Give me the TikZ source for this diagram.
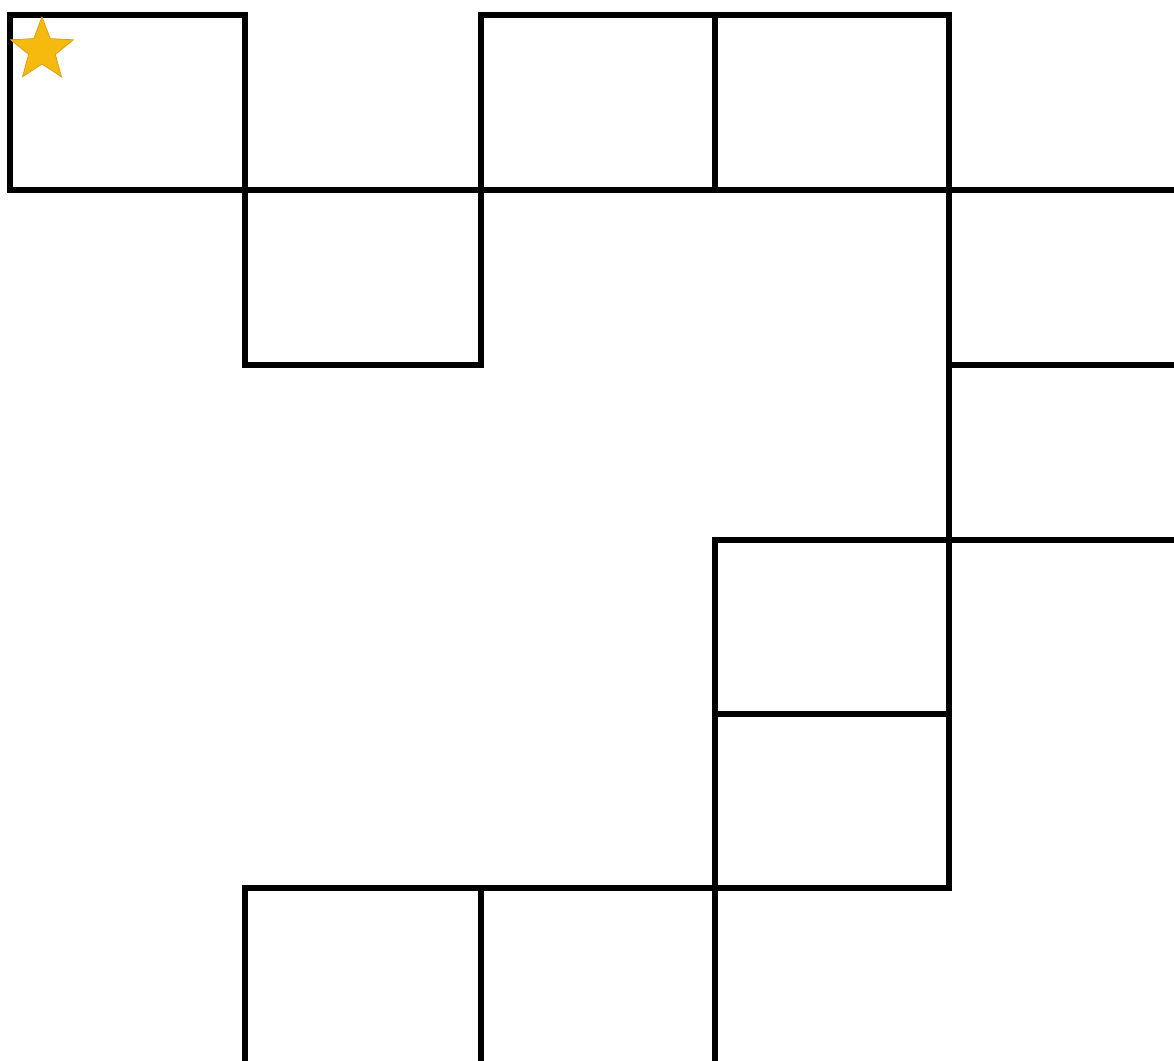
\documentclass[tikz,border=0pt]{standalone}
\usetikzlibrary{shapes.geometric}
\definecolor{stargold}{HTML}{F6BA0E}
\definecolor{staredge}{HTML}{D9A21A}
\begin{document}
\begin{tikzpicture}[x=0.5pt,y=-0.5pt,
  wall/.style={draw=black,line width=2.7pt,line cap=rect,line join=miter},
  starmark/.style={star,star points=5,star point ratio=2.35,minimum size=33pt,inner sep=0pt,fill=stargold,draw=staredge,line width=0.4pt}]
\useasboundingbox (0,0) rectangle (1174,1061);
\clip (0,0) rectangle (1174,1061);
% top row
\draw[wall] (10,15) rectangle (245,190);
\draw[wall] (481,15) rectangle (949,190);
\draw[wall] (715,15) -- (715,190);
\draw[wall] (10,190) -- (1180,190);
% row 1, column 1
\draw[wall] (245,190) rectangle (481,365);
% right column
\draw[wall] (949,190) -- (949,888);
\draw[wall] (949,365) -- (1180,365);
\draw[wall] (949,540) -- (1180,540);
% middle right column
\draw[wall] (715,540) -- (949,540);
\draw[wall] (715,714) -- (949,714);
\draw[wall] (715,540) -- (715,1070);
% bottom row
\draw[wall] (245,888) -- (949,888);
\draw[wall] (245,888) -- (245,1070);
\draw[wall] (481,888) -- (481,1070);
% star
\node[starmark] (start) at (42,50) {};
\end{tikzpicture}
\end{document}
